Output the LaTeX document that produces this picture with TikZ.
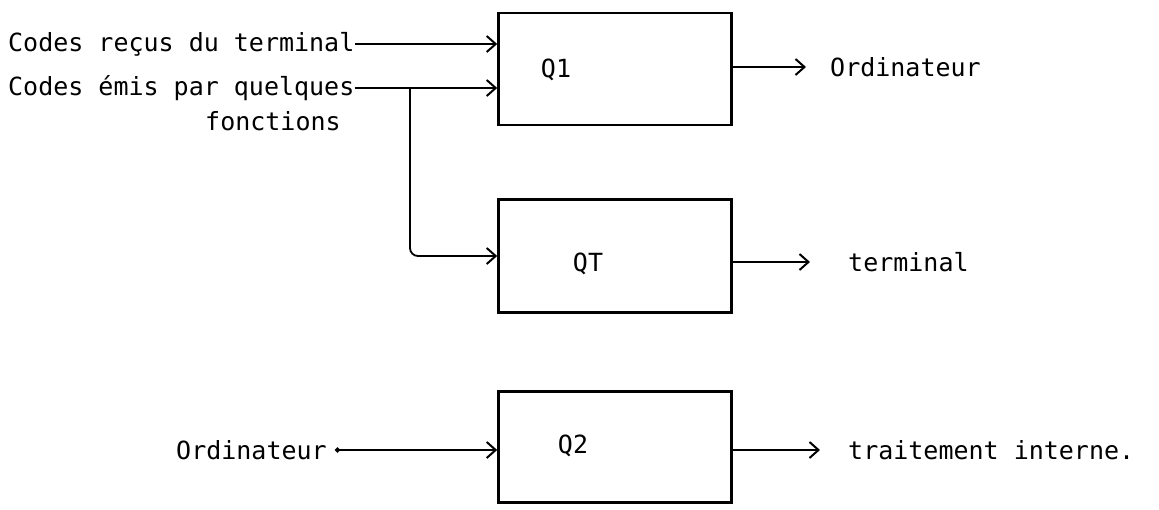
\documentclass[tikz,border=0pt]{standalone}
\usepackage{fontspec}
\setmonofont{DejaVu Sans Mono}
\usetikzlibrary{arrows.meta}
\begin{document}
\begin{tikzpicture}[x=1pt, y=-1pt, font=\ttfamily\fontsize{25}{29}\selectfont,
  box/.style = {draw, line width=2.6pt, minimum width=233pt, inner sep=0pt},
  arr/.style = {line width=1.8pt, -{Straight Barb[length=9pt, width=16pt, line width=2pt]}}]
\useasboundingbox (0,0) rectangle (1159,509);
\node (q1) [box, minimum height=112pt] at (615,69) {};
\node (qt) [box, minimum height=113pt] at (615,256) {};
\node (q2) [box, minimum height=111pt] at (615,447) {};
\node (q1l) at (556,70) {Q1};
\node (qtl) at (588,264) {QT};
\node (q2l) at (573,446) {Q2};

\node (recus) [anchor=west, inner sep=0pt] at (8,44) {Codes reçus du terminal};
\node (emis) [anchor=west, inner sep=0pt] at (8,88) {Codes émis par quelques};
\node (fonct) [anchor=west, inner sep=0pt] at (205,121) {fonctions};
\coordinate (fork) at (410,88);
\draw [arr] (recus.east) -- (recus.east -| q1.west);
\draw [arr] (emis.east) -- (emis.east -| q1.west);
\draw [arr, rounded corners=8pt] (fork) |- (qt.west);

\node (ordi1) [anchor=west, inner sep=0pt] at (830,67) {Ordinateur};
\node (term) [anchor=west, inner sep=0pt] at (848,262) {terminal};
\node (trait) [anchor=west, inner sep=0pt] at (848,450) {traitement interne.};
\draw [arr] (q1.east |- ordi1.west) -- ([xshift=-24pt]ordi1.west);
\draw [arr] (qt.east |- term.west) -- ([xshift=-38pt]term.west);
\draw [arr] (q2.east |- trait.west) -- ([xshift=-28pt]trait.west);

\node (ordi2) [anchor=west, inner sep=0pt] at (176,450) {Ordinateur};
\draw [arr, {Circle[length=5pt]}-{Straight Barb[length=9pt, width=16pt, line width=2pt]}] ([xshift=8pt]ordi2.east) -- (ordi2.east -| q2.west);
\end{tikzpicture}
\end{document}
